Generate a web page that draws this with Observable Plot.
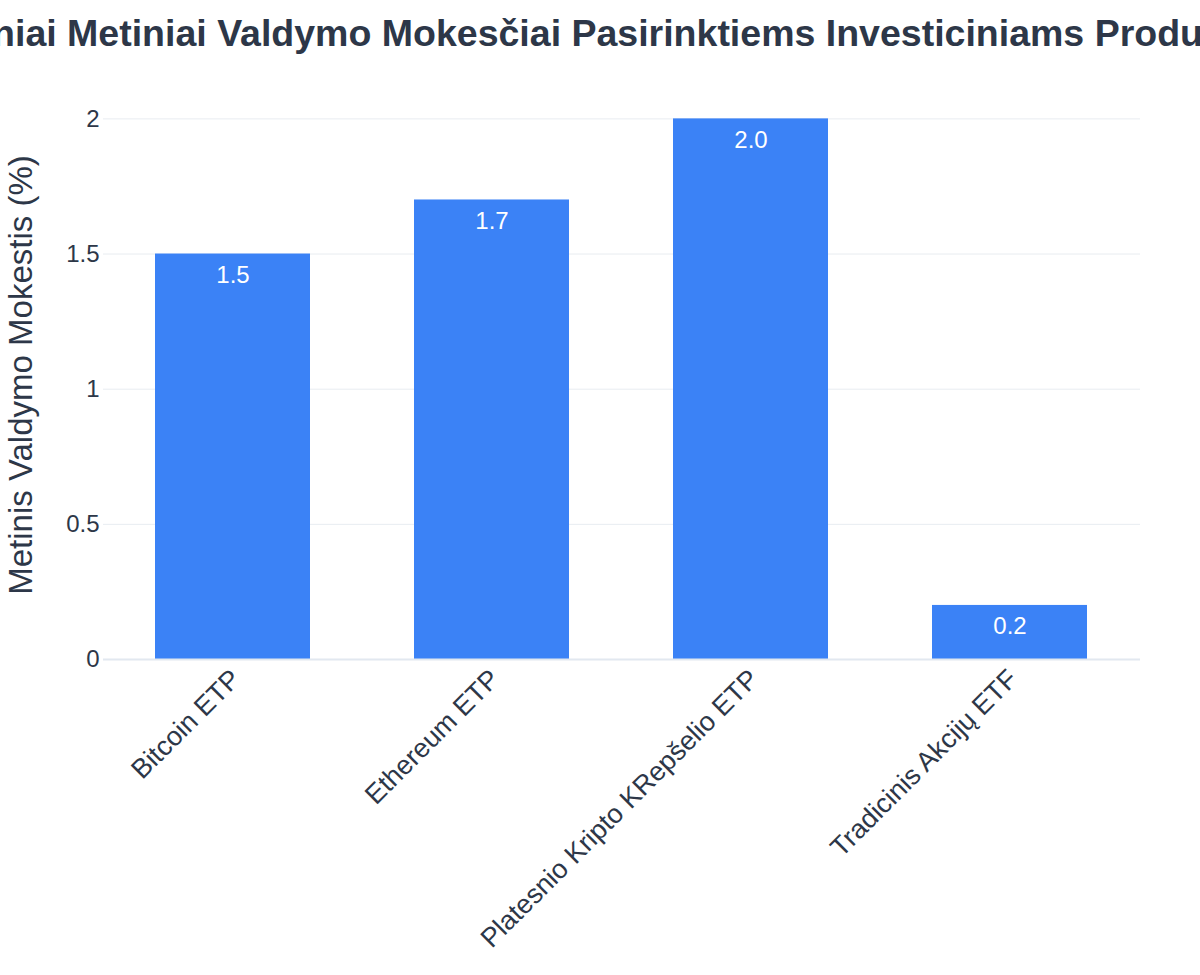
<!DOCTYPE html>
<html>
<head>
<meta charset="utf-8">
<script src="https://cdn.jsdelivr.net/npm/d3@7"></script>
<script src="https://cdn.jsdelivr.net/npm/@observablehq/plot@0.6"></script>
<style>
  html, body { margin: 0; padding: 0; background: #fff; overflow: hidden; width: 1200px; }
  #title {
    height: 66px; width: 1200px; position: relative; overflow: visible;
    font-family: "Liberation Sans", Arial, sans-serif; font-weight: bold; font-size: 37.5px;
    line-height: 1; color: #2d3748; white-space: nowrap;
  }
  #title span { position: absolute; left: 600px; top: 14.5px; transform: translateX(-50%); }
</style>
</head>
<body>
<div id="title"><span>Vidutiniai Metiniai Valdymo Mokesčiai Pasirinktiems Investiciniams Produktams</span></div>
<div id="chart"></div>
<script>
const categories = ["Bitcoin ETP", "Ethereum ETP", "Platesnio Kripto KRepšelio ETP", "Tradicinis Akcijų ETF"];
const fees = [1.5, 1.7, 2.0, 0.2];
const yTicks = [0, 0.5, 1, 1.5, 2];
const yLabel = "Metinis Valdymo Mokestis (%)";

const data = categories.map((c, i) => ({category: c, fee: fees[i]}));
const textColor = "#2d3748";

const chart = Plot.plot({
  width: 1200,
  height: 909,
  marginTop: 24,
  marginBottom: 316,
  marginLeft: 103,
  marginRight: 60,
  style: {fontFamily: "'Liberation Sans', Arial, sans-serif", color: textColor, background: "#fff"},
  x: {domain: categories, paddingInner: 0.4, paddingOuter: 0.2, label: null},
  y: {domain: [0, 2.105], label: null},
  marks: [
    Plot.ruleY(yTicks.filter(d => d !== 0), {stroke: "#e8ecf1", strokeWidth: 1}),
    Plot.barY(data, {x: "category", y: "fee", fill: "#3b82f6"}),
    Plot.ruleY([0], {stroke: "#e2e8f0", strokeWidth: 2}),
    Plot.text(data, {x: "category", y: "fee", text: d => d.fee.toFixed(1), fill: "white", fontSize: 24, dy: 21}),
    Plot.axisY({ticks: yTicks, tickFormat: d => String(d), tickSize: 0, tickPadding: 4, fontSize: 24, label: null, fill: textColor}),
    Plot.axisX({tickSize: 0, tickRotate: -45, tickPadding: 15, dx: 3, fontSize: 27, label: null, fill: textColor}),
    Plot.text([yLabel], {frameAnchor: "left", textAnchor: "middle", rotate: -90, dx: -82, fontSize: 33, fill: textColor})
  ]
});
document.getElementById("chart").appendChild(chart);
</script>
</body>
</html>
